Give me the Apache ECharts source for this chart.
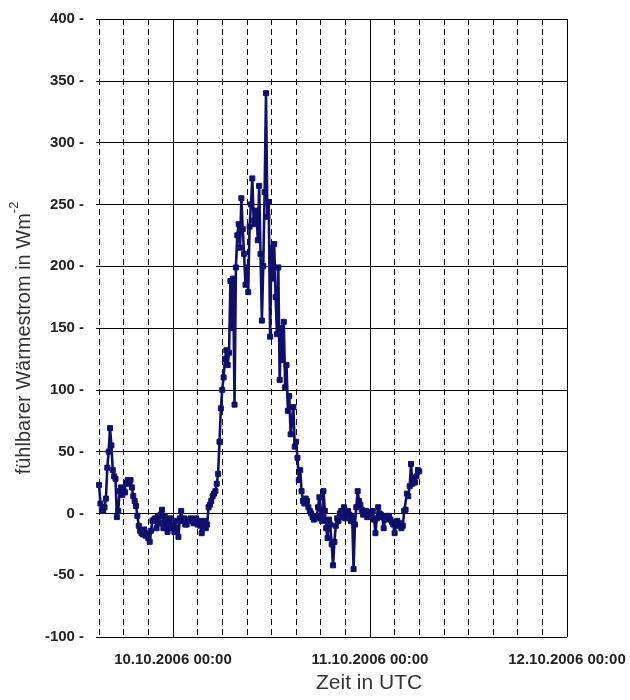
<!DOCTYPE html>
<html>
<head>
<meta charset="utf-8">
<script src="https://cdn.jsdelivr.net/npm/echarts@6/dist/echarts.min.js"></script>
<style>
html,body{margin:0;padding:0;background:#fff;}
#chart{width:630px;height:700px;}
</style>
</head>
<body>
<div id="chart"></div>
<script>
// time axis in hours since 09.10.2006 00:00 UTC
const startHour = 15;          // first sample: 09.10.2006 15:00
const stepMinutes = 10;        // sampling interval
// sensible heat flux (W m^-2), one value every 10 minutes
const flux = [
  23, 8, 3, 2, 5, 12,            // 15h
  37, 50, 69, 55, 35, 30,        // 16h
  28, -3, 2, 18, 21, 15,         // 17h
  18, 17, 25, 27, 24, 27,        // 18h
  21, 14, 10, 6, -2, -10,        // 19h
  -14, -16, -17, -13, -18, -16,  // 20h
  -20, -23, -14, -6, -5, -4,     // 21h
  -12, -2, -8, -1, 3, -12,       // 22h
  -2, -8, -15, -6, -4, -12,      // 23h
  -9, -15, -6, -12, -19, -4,     // 00h (10.10.)
  2, -6, -4, -9, -9, -5,         // 01h
  -6, -4, -6, -8, -6, -4,        // 02h
  -9, -6, -10, -16, -9, -6,      // 03h
  -12, -9, 5, 7, 10, 14,         // 04h
  16, 18, 24, 32, 58, 85,        // 05h
  100, 110, 125, 132, 120, 130,  // 06h
  188, 150, 190, 88, 199, 225,   // 07h
  234, 215, 255, 230, 210, 185,  // 08h
  199, 179, 232, 250, 271, 237,  // 09h
  234, 245, 221, 265, 210, 156,  // 10h
  200, 260, 340, 240, 252, 143,  // 11h
  215, 190, 218, 175, 145, 199,  // 12h
  108, 150, 124, 155, 102, 120,  // 13h
  83, 95, 64, 75, 86, 54,        // 14h
  58, 45, 27, 35, 18, 10,        // 15h
  8, 12, 10, 5, 2, 0,            // 16h
  -3, -5, -2, -4, 5, 13,         // 17h
  -3, -6, 18, 2, -12, -20,       // 18h
  -5, -9, -25, -42, -23, -10,    // 19h
  -4, -6, 0, 2, -3, 5,           // 20h
  -4, -1, 2, -1, -6, -3,         // 21h
  -45, -9, 5, 18, 10, 7,         // 22h
  3, -1, 0, 2, -3, -2,           // 23h
  0, 1, 2, -5, -16, -4,          // 00h (11.10.)
  5, 0, -1, -3, -12, -5,         // 01h
  -2, -4, -2, -5, -7, -9,        // 02h
  -16, -9, -6, -10, -8, -12,     // 03h
  -10, 2, 3, 16, 14, 22,         // 04h
  40, 24, 29, 25, 30, 35,        // 05h
  34                             // 06h
];
// x axis: major (solid) positions and their labels
const dayTicks = [24, 48, 72];
const tickLabels = ['10.10.2006 00:00', '11.10.2006 00:00', '12.10.2006 00:00'];
const yTicksMin = -100, yTicksMax = 400, yStep = 50;
const xMin = 15, xMax = 72, xStep = 3;

const seriesData = flux.map((v, i) => [startHour + i * stepMinutes / 60, v]);

const chart = echarts.init(document.getElementById('chart'), null, {renderer: 'canvas'});
chart.setOption({
  animation: false,
  backgroundColor: '#ffffff',
  grid: {left: 98, right: 63, top: 19, bottom: 63, containLabel: false},
  xAxis: {
    type: 'value', min: xMin, max: xMax, interval: xStep,
    name: 'Zeit in UTC', nameLocation: 'middle', nameGap: 36,
    nameTextStyle: {fontFamily: 'Liberation Sans', fontSize: 21, color: '#333', padding: [0, 0, 0, 72]},
    axisLine: {show: true, lineStyle: {color: '#000', width: 1}},
    axisTick: {show: false},
    axisLabel: {
      show: true, showMinLabel: true, showMaxLabel: true, margin: 15,
      fontFamily: 'Liberation Sans', fontSize: 15, fontWeight: 'bold', color: '#222',
      formatter: function (v) {
        const k = dayTicks.indexOf(Math.round(v));
        return k >= 0 ? tickLabels[k] : '';
      }
    },
    splitLine: {show: true, lineStyle: {color: '#000', width: 1, type: [6, 4]}}
  },
  yAxis: {
    type: 'value', min: yTicksMin, max: yTicksMax, interval: yStep,
    name: '{a|fühlbarer Wärmestrom in Wm}{s|-2}', nameLocation: 'middle', nameGap: 60,
    nameTextStyle: {
      padding: [0, 20, 0, 0],
      rich: {
        a: {fontFamily: 'Liberation Sans', fontSize: 20, color: '#333', lineHeight: 26, verticalAlign: 'bottom'},
        s: {fontFamily: 'Liberation Sans', fontSize: 13, color: '#333', lineHeight: 26, verticalAlign: 'top'}
      }
    },
    axisLine: {show: false},
    axisTick: {show: true, length: 3, lineStyle: {color: '#000'}},
    axisLabel: {
      margin: 15, fontFamily: 'Liberation Sans', fontSize: 15, fontWeight: 'bold', color: '#222',
      formatter: function (v) { return v + ' -'; }
    },
    splitLine: {show: true, lineStyle: {color: '#000', width: 1, type: 'solid'}}
  },
  series: [{
    type: 'line',
    data: seriesData,
    showSymbol: true,
    showAllSymbol: true,
    symbol: 'rect',
    symbolSize: 5,
    lineStyle: {color: '#10106c', width: 2.6},
    itemStyle: {color: '#10106c', borderColor: '#10106c'},
    z: 5,
    markLine: {
      silent: true, symbol: 'none', label: {show: false},
      lineStyle: {color: '#000', width: 1, type: 'solid'},
      data: dayTicks.map(d => ({xAxis: d})),
      z: 1
    }
  }]
});
</script>
</body>
</html>
